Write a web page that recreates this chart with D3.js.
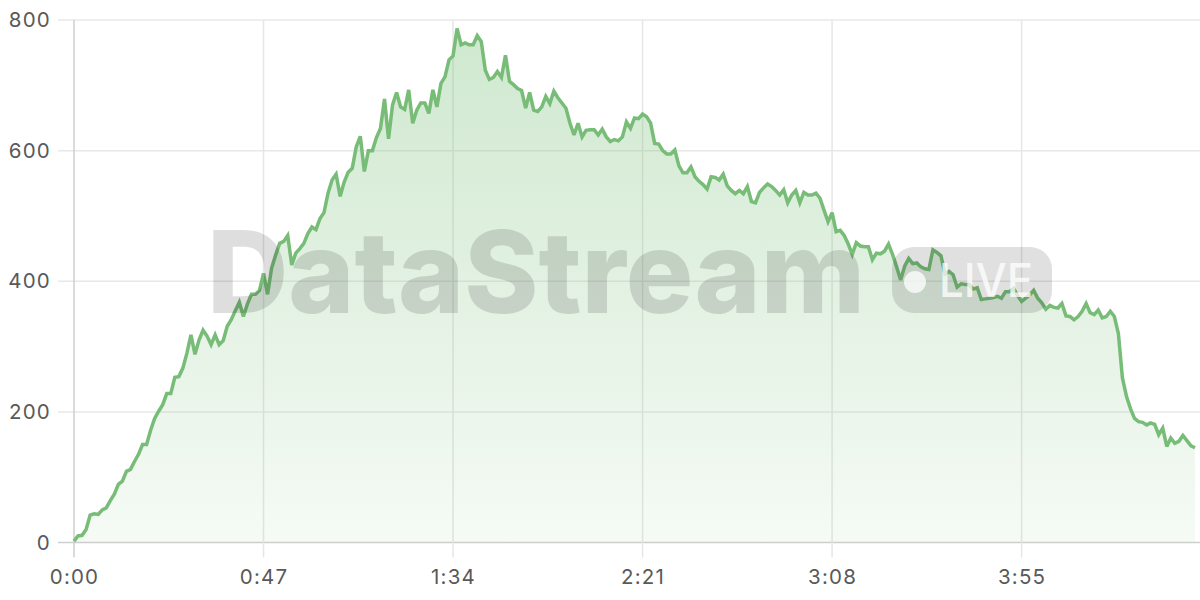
<!DOCTYPE html>
<html>
<head>
<meta charset="utf-8">
<script src="https://cdn.jsdelivr.net/npm/d3@7"></script>
<style>
  html, body { margin: 0; padding: 0; background: #ffffff; }
  svg { display: block; }
</style>
</head>
<body>
<svg id="drawing_region"></svg>
<script>
// viewer count, one reading per second (0:00 .. 4:38)
const values = [
    2, 10, 11, 20, 42, 44, 43, 50, 53, 64,
    74, 89, 94, 109, 112, 124, 135, 150, 150, 172,
    190, 201, 211, 228, 228, 253, 254, 267, 290, 318,
    288, 310, 325, 316, 303, 318, 303, 309, 331, 341,
    355, 368, 346, 365, 380, 380, 386, 412, 380, 420,
    440, 458, 461, 470, 425, 443, 450, 458, 473, 483,
    479, 496, 505, 535, 555, 564, 530, 552, 567, 573,
    606, 622, 568, 600, 600, 620, 634, 679, 618, 670,
    689, 667, 663, 693, 642, 662, 673, 673, 657, 693,
    667, 703, 713, 739, 745, 787, 762, 765, 762, 762,
    776, 767, 723, 709, 712, 721, 712, 746, 706, 701,
    695, 692, 665, 689, 662, 660, 667, 683, 672, 691,
    681, 673, 665, 642, 624, 642, 621, 631, 632, 632,
    624, 633, 621, 614, 617, 615, 621, 644, 634, 650,
    649, 656, 652, 642, 611, 610, 600, 595, 595, 601,
    577, 566, 566, 575, 560, 553, 548, 541, 560, 559,
    555, 564, 546, 539, 534, 539, 534, 545, 522, 520,
    536, 543, 549, 545, 539, 532, 540, 520, 532, 539,
    520, 536, 532, 532, 535, 527, 509, 491, 505, 476,
    478, 470, 457, 441, 459, 454, 453, 453, 433, 443,
    442, 446, 457, 441, 422, 402, 423, 435, 427, 428,
    422, 419, 418, 448, 444, 439, 411, 415, 410, 391,
    396, 395, 395, 388, 390, 372, 373, 374, 375, 377,
    374, 384, 384, 389, 378, 369, 374, 379, 386, 374,
    367, 357, 363, 360, 359, 366, 347, 346, 341, 346,
    354, 366, 352, 349, 356, 344, 346, 354, 346, 320,
    252, 224, 205, 190, 185, 184, 180, 183, 181, 165,
    175, 147, 160, 152, 155, 164, 156, 148, 145
];
const seconds = values.map((v, i) => i);

const xTickValues = [0, 47, 94, 141, 188, 235];
const xTickLabels = ['0:00', '0:47', '1:34', '2:21', '3:08', '3:55'];
const yTickValues = [0, 200, 400, 600, 800];

const watermarkText = 'DataStream';
const badgeText = 'LIVE';

var config = {
    parent: '#drawing_region',
    width: 1200,
    height: 600,
    margin: {top: 20, right: 5, bottom: 57.5, left: 74}
};

const svg = d3.select(config.parent)
    .attr('width', config.width)
    .attr('height', config.height);

const inner_width = config.width - config.margin.left - config.margin.right;
const inner_height = config.height - config.margin.top - config.margin.bottom;

const chart = svg.append('g')
    .attr('transform', `translate(${config.margin.left}, ${config.margin.top})`);

const xscale = d3.scaleLinear().domain([0, 278]).range([0, inner_width]);
const yscale = d3.scaleLinear().domain([0, 800]).range([inner_height, 0]);

// gradient for the area fill
const defs = svg.append('defs');
const grad = defs.append('linearGradient')
    .attr('id', 'fillGrad')
    .attr('gradientUnits', 'userSpaceOnUse')
    .attr('x1', 0).attr('x2', 0)
    .attr('y1', yscale(800)).attr('y2', yscale(0));
grad.append('stop').attr('offset', '0%').attr('stop-color', '#78be78').attr('stop-opacity', 0.36);
grad.append('stop').attr('offset', '100%').attr('stop-color', '#78be78').attr('stop-opacity', 0.07);

// watermark (sits under the fill, so it picks up the green tint)
const wm = svg.append('g').attr('class', 'watermark');
wm.append('text')
    .attr('x', 207).attr('y', 313)
    .attr('textLength', 658)
    .attr('lengthAdjust', 'spacingAndGlyphs')
    .style('font-family', 'Inter, "Noto Sans", sans-serif')
    .style('font-size', '114px')
    .style('font-weight', 800)
    .style('fill', 'rgba(0,0,0,0.13)')
    .text(watermarkText);
wm.append('rect')
    .attr('x', 892).attr('y', 247)
    .attr('width', 160).attr('height', 66)
    .attr('rx', 22)
    .style('fill', 'rgba(0,0,0,0.12)');
wm.append('circle')
    .attr('cx', 915).attr('cy', 282).attr('r', 11)
    .style('fill', 'rgba(255,255,255,0.75)');
wm.append('text')
    .attr('x', 939).attr('y', 297)
    .attr('textLength', 94)
    .attr('lengthAdjust', 'spacingAndGlyphs')
    .style('font-family', 'Inter, "Noto Sans", sans-serif')
    .style('font-size', '46px')
    .style('font-weight', 500)
    .style('fill', 'rgba(255,255,255,0.75)')
    .text(badgeText);

// grid
const grid = chart.append('g').attr('class', 'grid');
grid.selectAll('line.h')
    .data(yTickValues)
    .join('line')
    .attr('class', 'h')
    .attr('x1', -16).attr('x2', inner_width + config.margin.right)
    .attr('y1', d => yscale(d)).attr('y2', d => yscale(d))
    .style('stroke', d => d === 0 ? '#cfcfcf' : '#e8e8e8')
    .style('stroke-width', 1.5);
grid.selectAll('line.v')
    .data(xTickValues)
    .join('line')
    .attr('class', 'v')
    .attr('x1', d => xscale(d)).attr('x2', d => xscale(d))
    .attr('y1', 0).attr('y2', inner_height + 15)
    .style('stroke', d => d === 0 ? '#cfcfcf' : '#e6e6e6')
    .style('stroke-width', 1.5);

// area + line
const area = d3.area()
    .x((d, i) => xscale(seconds[i]))
    .y0(yscale(0))
    .y1(d => yscale(d));
const line = d3.line()
    .x((d, i) => xscale(seconds[i]))
    .y(d => yscale(d));

chart.append('path')
    .datum(values)
    .attr('d', area)
    .style('fill', 'url(#fillGrad)');

chart.append('path')
    .datum(values)
    .attr('d', line)
    .style('fill', 'none')
    .style('stroke', '#77bc77')
    .style('stroke-width', 3.5)
    .style('stroke-linejoin', 'miter')
    .style('stroke-miterlimit', 3);

// axes (labels only, grid drawn above)
const yaxis = d3.axisLeft(yscale).tickValues(yTickValues).tickSize(0).tickPadding(23);
const yaxis_group = chart.append('g').call(yaxis);
const xaxis = d3.axisBottom(xscale).tickValues(xTickValues)
    .tickFormat((d, i) => xTickLabels[i]).tickSize(0).tickPadding(27);
const xaxis_group = chart.append('g')
    .attr('transform', `translate(0, ${inner_height})`)
    .call(xaxis);

[yaxis_group, xaxis_group].forEach(g => {
    g.select('.domain').remove();
    g.selectAll('text')
        .style('font-family', 'Inter, "Noto Sans", sans-serif')
        .style('font-size', '20.5px')
        .style('letter-spacing', '1.2px')
        .style('fill', '#595959');
});
</script>
</body>
</html>
